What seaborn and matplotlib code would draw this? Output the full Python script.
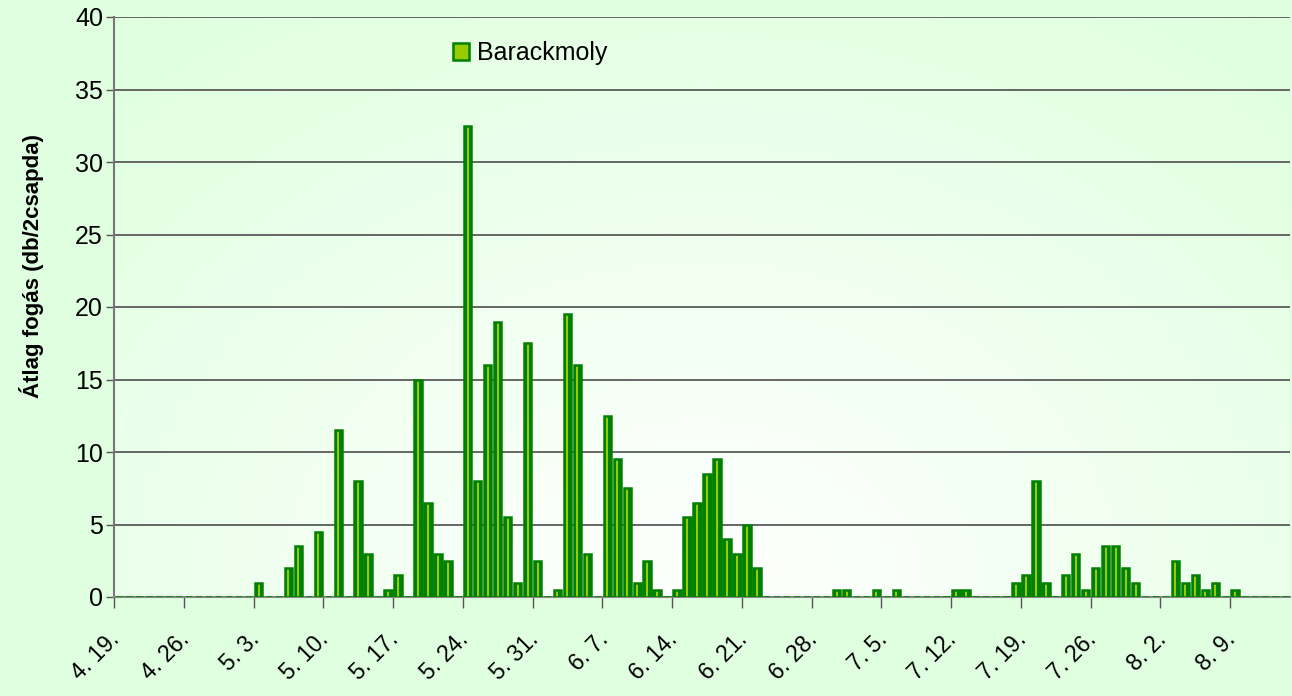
import numpy as np
import pandas as pd
import matplotlib
matplotlib.use("Agg")
import matplotlib.pyplot as plt
from matplotlib.patches import Patch
from matplotlib.transforms import ScaledTranslation
import seaborn as sns

# napi átlag fogás, 4.19 - 8.14
dates = pd.date_range("2008-04-19", "2008-08-14", freq="D")
catch = [
    0, 0, 0, 0, 0, 0, 0, 0, 0, 0, 0, 0, 0, 0,          # 4.19 - 5.2
    1, 0, 0, 2, 3.5, 0, 4.5,                           # 5.3 - 5.9
    0, 11.5, 0, 8, 3, 0, 0.5,                          # 5.10 - 5.16
    1.5, 0, 15, 6.5, 3, 2.5, 0,                        # 5.17 - 5.23
    32.5, 8, 16, 19, 5.5, 1, 17.5,                     # 5.24 - 5.30
    2.5, 0, 0.5, 19.5, 16, 3, 0,                       # 5.31 - 6.6
    12.5, 9.5, 7.5, 1, 2.5, 0.5, 0,                    # 6.7 - 6.13
    0.5, 5.5, 6.5, 8.5, 9.5, 4, 3,                     # 6.14 - 6.20
    5, 2, 0, 0, 0, 0, 0,                               # 6.21 - 6.27
    0, 0, 0.5, 0.5, 0, 0, 0.5,                         # 6.28 - 7.4
    0, 0.5, 0, 0, 0, 0, 0,                             # 7.5 - 7.11
    0.5, 0.5, 0, 0, 0, 0, 1,                           # 7.12 - 7.18
    1.5, 8, 1, 0, 1.5, 3, 0.5,                         # 7.19 - 7.25
    2, 3.5, 3.5, 2, 1, 0, 0,                           # 7.26 - 8.1
    0, 2.5, 1, 1.5, 0.5, 1, 0,                         # 8.2 - 8.8
    0.5, 0, 0, 0, 0, 0,                                # 8.9 - 8.14
]
series_name = "Barackmoly"
y_label = "Átlag fogás (db/2csapda)"
y_ticks = [0, 5, 10, 15, 20, 25, 30, 35, 40]

df = pd.DataFrame({"datum": [f"{d.month}. {d.day}." for d in dates],
                   "fogas": catch})

bg = "#E0FFE0"
dark_green = "#008000"
light_green = "#99CC00"

sns.set_theme(style="white")
plt.rcParams["font.family"] = ["Liberation Sans", "DejaVu Sans"]

fig = plt.figure(figsize=(12.92, 6.96), dpi=100, facecolor=bg)
ax = fig.add_axes([114 / 1292, 1 - 597 / 696, 1176 / 1292, 580 / 696])

# plot area gradient (light in the upper middle, green towards the edges)
gx, gy = np.meshgrid(np.linspace(-1, 1, 200), np.linspace(0, 1, 200))
r = np.clip(np.sqrt((gx * 0.8) ** 2 + (1 - gy) ** 2) / 1.2, 0, 1)
c0 = np.array([1.0, 1.0, 1.0])
c1 = np.array([224, 255, 224]) / 255
grad = c0 + (c1 - c0) * r[..., None]
ax.imshow(grad, extent=[0, 1, 0, 1], transform=ax.transAxes, aspect="auto",
          origin="upper", zorder=0)

# cylinder-like bars: dark body, light stripe, dark outline on top
sns.barplot(data=df, x="datum", y="fogas", color=dark_green, saturation=1,
            width=0.74, linewidth=0, ax=ax, zorder=3)
sns.barplot(data=df, x="datum", y="fogas", color=light_green, saturation=1,
            width=0.2, linewidth=0, ax=ax, zorder=4)
sns.barplot(data=df, x="datum", y="fogas", fill=False, saturation=1,
            color=dark_green, edgecolor=dark_green, width=0.74,
            linewidth=1.8, ax=ax, zorder=5)

n = len(df)
ax.set_yticks(y_ticks)
ax.set_yticklabels([str(v) for v in y_ticks], fontsize=18, color="black")
ax.grid(axis="y", color="#5a5a5a", linewidth=1.3, zorder=1)
ax.set_axisbelow(True)

# ticks between categories, labels every 7th day
label_pos = np.arange(0, n, 7)
ax.set_xticks(label_pos - 0.5)
ax.set_xticklabels([])
ax.set_xticks(label_pos, df["datum"].iloc[label_pos], minor=True)
ax.tick_params(axis="x", which="major", length=8, width=1, color="#555555",
               direction="out", bottom=True)
ax.tick_params(axis="x", which="minor", length=0, pad=22, labelsize=16.5,
               labelcolor="black")
shift = ScaledTranslation(-0.11, 0, fig.dpi_scale_trans)
for lab in ax.get_xticklabels(minor=True):
    lab.set_rotation(45)
    lab.set_ha("right")
    lab.set_va("top")
    lab.set_rotation_mode("anchor")
    lab.set_transform(lab.get_transform() + shift)
ax.tick_params(axis="y", length=6, width=1, color="#555555", left=True, pad=2)
ax.set_xlim(-0.5, n - 0.5)
ax.set_ylim(0, 40)

ax.set_xlabel("")
ax.set_ylabel(y_label, fontsize=16, fontweight="bold", color="black")
ax.yaxis.set_label_coords(44 / 1292, 1 - 266 / 696, transform=fig.transFigure)

for s in ["top", "right"]:
    ax.spines[s].set_visible(False)
ax.spines["left"].set_color("#777777")
ax.spines["left"].set_linewidth(1.5)
ax.spines["bottom"].set_color("#888888")
ax.spines["bottom"].set_linewidth(1.5)

handle = Patch(facecolor=light_green, edgecolor=dark_green, linewidth=1.8)
leg = ax.legend([handle], [series_name], loc="upper left",
                bbox_to_anchor=(453 / 1292, 1 - 41 / 696),
                bbox_transform=fig.transFigure, frameon=False, fontsize=18,
                handlelength=0.65, handleheight=0.65, handletextpad=0.3,
                borderpad=0, borderaxespad=0)
for t in leg.get_texts():
    t.set_color("black")

fig.savefig("out.png", dpi=100, facecolor=bg)
